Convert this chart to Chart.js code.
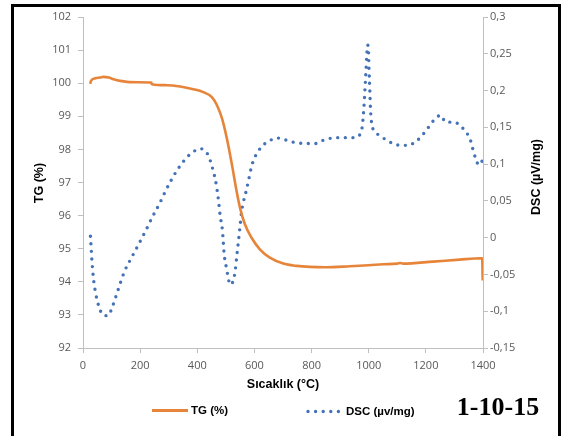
<!DOCTYPE html>
<html>
<head>
<meta charset="utf-8">
<script src="https://cdn.jsdelivr.net/npm/chart.js@4/dist/chart.umd.min.js"></script>
<style>
html,body{margin:0;padding:0;background:#fff;}
#wrap{width:563px;height:436px;position:relative;}
</style>
</head>
<body>
<div id="wrap"><canvas id="c" width="563" height="436"></canvas></div>
<script>
// ---- data ----
const tgTemp = [25,28,43,60,72,90,107,130,154,194,239,241,293,340,386,421,451,468,486,503,521,538,550,567,590,619,654,701,748,794,850,934,1000,1050,1100,1110,1120,1225,1318,1394,1397,1399];
const tgValues = [99.98,100.07,100.15,100.17,100.19,100.17,100.12,100.07,100.04,100.03,100.02,99.97,99.94,99.90,99.82,99.73,99.58,99.35,98.95,98.35,97.55,96.72,96.22,95.73,95.33,94.98,94.73,94.55,94.48,94.45,94.44,94.47,94.50,94.53,94.55,94.57,94.55,94.61,94.67,94.71,94.71,94.04];

const dscTemp = [26,28,31,34,38,44,50,57,66,78,88,101,110,127,145,170,196,220,244,270,282,307,335,368,391,410,420,437,454,466,474,480,488,494,503,510,515,520,526,532,538,544,550,555,561,569,580,590,601,614,631,654,680,707,734,785,814,838,865,892,919,945,965,972,977,980,984,987,990,993,996,999,1001,1004,1006,1010,1018,1038,1061,1085,1111,1138,1162,1183,1200,1216,1233,1250,1258,1265,1289,1315,1333,1350,1359,1366,1374,1385,1396,1400];
const dscValues = [0.002,-0.01,-0.03,-0.045,-0.06,-0.075,-0.086,-0.095,-0.1035,-0.106,-0.106,-0.096,-0.086,-0.066,-0.046,-0.027,-0.008,0.010,0.029,0.048,0.058,0.077,0.095,0.111,0.118,0.121,0.120,0.113,0.0935,0.073,0.0515,0.030,0.010,-0.022,-0.043,-0.058,-0.064,-0.063,-0.058,-0.047,-0.026,-0.005,0.017,0.035,0.048,0.060,0.079,0.097,0.109,0.118,0.126,0.132,0.1355,0.133,0.130,0.128,0.128,0.132,0.135,0.136,0.136,0.136,0.138,0.143,0.150,0.161,0.182,0.203,0.224,0.246,0.262,0.255,0.230,0.199,0.177,0.156,0.146,0.139,0.133,0.128,0.1255,0.1255,0.130,0.137,0.1455,0.1535,0.162,0.166,0.165,0.158,0.157,0.1545,0.147,0.138,0.129,0.118,0.108,0.099,0.104,0.094];

const xTicks = [0,200,400,600,800,1000,1200,1400];
const tgTickLabels = ['92','93','94','95','96','97','98','99','100','101','102'];
const dscTickLabels = ['-0,15','-0,1','-0,05','0','0,05','0,1','0,15','0,2','0,25','0,3'];

const seriesNames = ['TG (%)', 'DSC (µv/mg)'];
const xTitle = 'Sıcaklık (°C)';
const yTitle = 'TG (%)';
const y2Title = 'DSC (µV/mg)';
const sampleLabel = '1-10-15';

const ORANGE = '#e6853a';
const BLUE = '#4472b6';
const AXIS = '#bfbfbf';
const TICKC = '#595959';
const tickFont = {family:'"Open Sans", "Liberation Sans", sans-serif', size:11};

const tgData = tgTemp.map((t,i)=>({x:t,y:tgValues[i]}));
const dscData = dscTemp.map((t,i)=>({x:t,y:dscValues[i]}));

const decor = {
  id:'decor',
  afterDraw(chart){
    const ctx = chart.ctx;
    ctx.save();
    // frame
    ctx.strokeStyle = '#000';
    ctx.lineWidth = 3;
    ctx.beginPath();
    ctx.moveTo(12.5, 440);
    ctx.lineTo(12.5, 5.5);
    ctx.lineTo(559.5, 5.5);
    ctx.lineTo(559.5, 440);
    ctx.stroke();

    ctx.fillStyle = '#000';
    ctx.textAlign = 'center';
    ctx.textBaseline = 'middle';
    ctx.font = 'bold 12.5px "Liberation Sans", Arial, sans-serif';
    // x title
    ctx.fillText(xTitle, 283, 385);
    // left title
    ctx.save();
    ctx.translate(40, 183);
    ctx.rotate(-Math.PI/2);
    ctx.fillText(yTitle, 0, 0);
    ctx.restore();
    // right title
    ctx.save();
    ctx.translate(537, 177);
    ctx.rotate(-Math.PI/2);
    ctx.fillText(y2Title, 0, 0);
    ctx.restore();

    // legend
    const ly = 410.5;
    ctx.strokeStyle = ORANGE;
    ctx.lineWidth = 3;
    ctx.lineCap = 'butt';
    ctx.beginPath(); ctx.moveTo(152, ly); ctx.lineTo(188, ly); ctx.stroke();
    ctx.strokeStyle = BLUE;
    ctx.lineWidth = 3.4;
    ctx.lineCap = 'round';
    ctx.setLineDash([0, 7.6]);
    ctx.beginPath(); ctx.moveTo(308, ly+1); ctx.lineTo(341, ly+1); ctx.stroke();
    ctx.setLineDash([]);
    ctx.fillStyle = '#000';
    ctx.textAlign = 'left';
    ctx.font = 'bold 11.5px "Liberation Sans", Arial, sans-serif';
    ctx.fillText(seriesNames[0], 191, ly+0.5);
    ctx.fillText(seriesNames[1], 346, ly+1);

    // sample label
    ctx.textAlign = 'center';
    ctx.textBaseline = 'alphabetic';
    ctx.font = 'bold 26px "Liberation Serif", "Times New Roman", serif';
    ctx.fillText(sampleLabel, 498, 415);
    ctx.restore();
  }
};

new Chart(document.getElementById('c'), {
  type:'line',
  data:{
    datasets:[
      {label:seriesNames[0], data:tgData, yAxisID:'y', borderColor:ORANGE, backgroundColor:ORANGE,
       borderWidth:2.6, pointRadius:0, cubicInterpolationMode:'monotone', fill:false},
      {label:seriesNames[1], data:dscData, yAxisID:'y2', borderColor:BLUE, backgroundColor:BLUE,
       borderWidth:3.4, borderDash:[0,7.6], borderCapStyle:'round', pointRadius:0,
       cubicInterpolationMode:'monotone', fill:false}
    ]
  },
  options:{
    responsive:false,
    animation:false,
    devicePixelRatio:1,
    layout:{padding:{top:17,left:0,right:0,bottom:0}},
    plugins:{legend:{display:false}, tooltip:{enabled:false}},
    scales:{
      x:{type:'linear', min:0, max:1400,
         afterBuildTicks(s){ s.ticks = xTicks.map(v=>({value:v})); },
         afterFit(s){ s.height = 88; },
         grid:{drawOnChartArea:false, drawTicks:true, tickLength:5, color:AXIS},
         border:{display:true, color:AXIS, width:1},
         ticks:{color:TICKC, font:tickFont, padding:6, maxRotation:0, autoSkip:false,
                callback:(v)=>String(v)}},
      y:{type:'linear', position:'left', min:92, max:102,
         ticks:{stepSize:1, color:TICKC, font:tickFont, padding:7,
                callback:(v,i)=>tgTickLabels[i]},
         afterFit(s){ s.width = 83; },
         grid:{drawOnChartArea:false, drawTicks:true, tickLength:5, color:AXIS},
         border:{display:true, color:AXIS, width:1}},
      y2:{type:'linear', position:'right', min:-0.15, max:0.3,
         ticks:{stepSize:0.05, color:TICKC, font:tickFont, padding:2,
                callback:(v,i)=>dscTickLabels[i]},
         afterFit(s){ s.width = 80; },
         grid:{drawOnChartArea:false, drawTicks:true, tickLength:5, color:AXIS},
         border:{display:true, color:AXIS, width:1}}
    }
  },
  plugins:[decor]
});
</script>
</body>
</html>
